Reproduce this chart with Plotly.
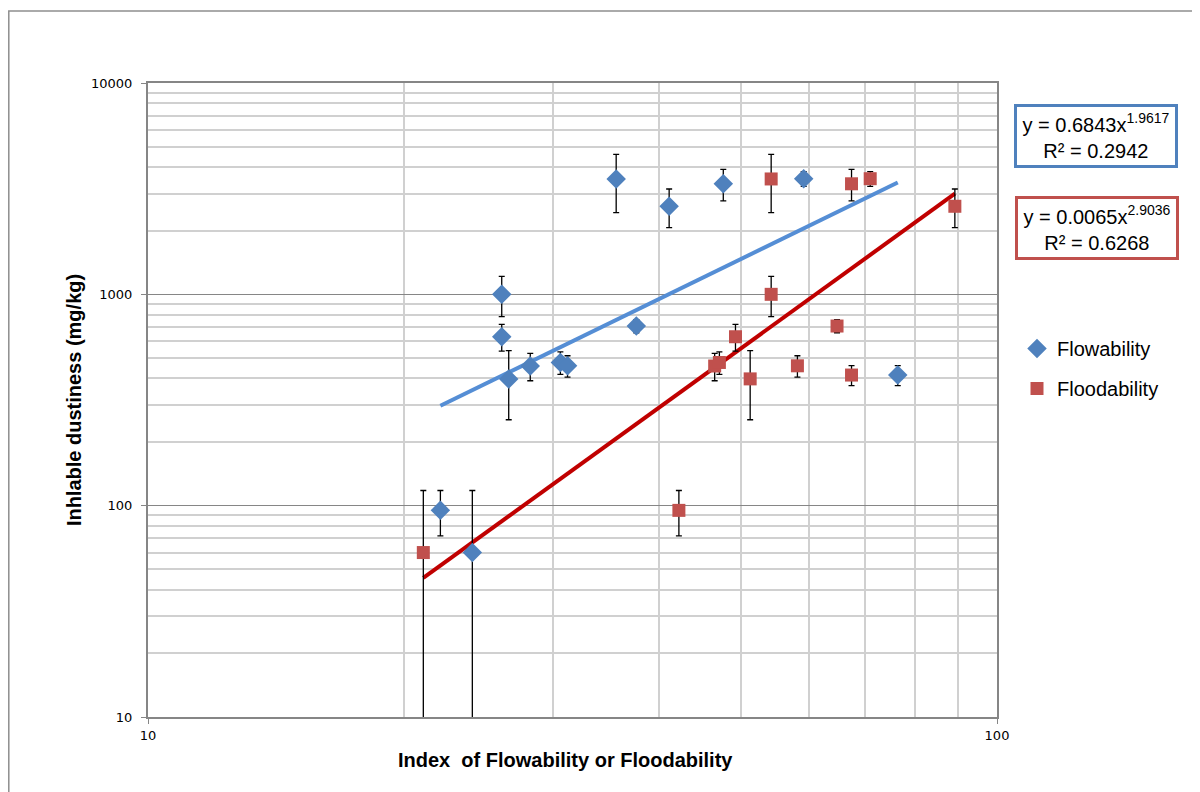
import plotly.graph_objects as go

# ---------------- data ----------------
# shared dustiness values for each powder (mg/kg) and their error (+/-)
dustiness = [3515, 2610, 3335, 3525, 1000, 630, 398, 458, 476, 459, 708, 415, 95, 60]
dust_err = [1080, 540, 565, 285, 215, 91, 143, 68, 58, 53, 50, 45, 23, 58]

flowability_idx = [35.6, 41.1, 47.6, 59.2, 26.1, 26.1, 26.6, 28.2, 30.6, 31.2, 37.6, 76.4, 22.1, 24.1]
floodability_idx = [54.2, 89.2, 67.4, 70.9, 54.2, 49.2, 51.2, 46.5, 47.1, 58.2, 64.8, 67.4, 42.2, 21.1]

# power-law trendline coefficients, as printed on the chart
flow_a, flow_b, flow_r2 = 0.6843, 1.9617, 0.2942
flood_a, flood_b, flood_r2 = 0.0065, 2.9036, 0.6268

x_tickvals = [10, 100]
x_ticktext = ["10", "100"]
y_tickvals = [10, 100, 1000, 10000]
y_ticktext = ["10", "100", "1000", "10000"]
x_minor = [20, 30, 40, 50, 60, 70, 80, 90]
y_minor = [m * d for d in (10, 100, 1000) for m in range(2, 10)]

# ---------------- styling ----------------
BLUE = "#4F81BD"
RED = "#C0504D"
BLUE_LINE = "#558ED5"
RED_LINE = "#C00000"
AXIS_GREY = "#868686"
MINOR_GREY = "#D0D0D0"

# page has an 8px body margin; work in page pixels, convert to figure pixels
OFF = 8
W, H = 1200 - OFF, 792 - OFF
PL, PR, PT, PB = 148, 997, 83, 717          # plot area in page pixels
L, T = PL - OFF, PT - OFF
R, B = W - (PR - OFF), H - (PB - OFF)
PW, PH = PR - PL, PB - PT


def px_x(p):
    return (p - PL) / PW


def px_y(p):
    return (PB - p) / PH


def trend(xs, a, b):
    lo, hi = min(xs), max(xs)
    return [lo, hi], [a * lo ** b, a * hi ** b]


fig = go.Figure()

tx, ty = trend(flowability_idx, flow_a, flow_b)
fig.add_trace(go.Scatter(x=tx, y=ty, mode="lines", showlegend=False, hoverinfo="skip",
                         line=dict(color=BLUE_LINE, width=4)))
tx, ty = trend(floodability_idx, flood_a, flood_b)
fig.add_trace(go.Scatter(x=tx, y=ty, mode="lines", showlegend=False, hoverinfo="skip",
                         line=dict(color=RED_LINE, width=4)))

err_style = dict(type="data", symmetric=True, color="black", thickness=1.3, width=3)

fig.add_trace(go.Scatter(
    x=flowability_idx, y=dustiness, mode="markers", name="Flowability",
    legendgroup="a",
    marker=dict(symbol="diamond", size=15, color=BLUE, line=dict(width=0)),
    error_y=dict(array=dust_err, **err_style),
))
fig.add_trace(go.Scatter(
    x=floodability_idx, y=dustiness, mode="markers", name="Floodability",
    legendgroup="b",
    marker=dict(symbol="square", size=13, color=RED, line=dict(width=0)),
    error_y=dict(array=dust_err, **err_style),
))

tick_font = dict(family="DejaVu Sans", size=13, color="black")
title_font = dict(family="Liberation Sans", size=20, color="black")

fig.update_xaxes(
    type="log", range=[1, 2],
    tickvals=x_tickvals, ticktext=x_ticktext, tickfont=tick_font,
    ticks="outside", ticklen=5, tickcolor=AXIS_GREY,
    showline=True, linecolor=AXIS_GREY, linewidth=2, mirror=True,
    showgrid=False, zeroline=False,
    minor=dict(tickvals=x_minor, showgrid=True, gridcolor=MINOR_GREY, gridwidth=1.5, ticks=""),
)
fig.update_yaxes(
    type="log", range=[1, 4],
    tickvals=y_tickvals, ticktext=y_ticktext, tickfont=tick_font,
    ticks="outside", ticklen=5, tickcolor=AXIS_GREY, ticklabelstandoff=6,
    showline=True, linecolor=AXIS_GREY, linewidth=2, mirror=True,
    showgrid=True, gridcolor=AXIS_GREY, gridwidth=1, zeroline=False,
    minor=dict(tickvals=y_minor, showgrid=True, gridcolor=MINOR_GREY, gridwidth=1.5, ticks=""),
    title=dict(text="<b>Inhlable dustiness (mg/kg)</b>", font=title_font, standoff=4),
)

# x-axis title (placed as annotation to match the reference's centring)
fig.add_annotation(
    xref="paper", yref="paper", x=px_x(565), y=px_y(760), xanchor="center", yanchor="middle",
    text="<b>Index  of Flowability or Floodability</b>", showarrow=False, font=title_font,
)

eq_font = dict(family="Liberation Sans", size=20, color="black")
fig.add_annotation(
    xref="paper", yref="paper", x=px_x(1095.5), y=px_y(136), xanchor="center", yanchor="middle",
    text=f"y = {flow_a:.4f}x<sup>{flow_b:.4f}</sup><br>R² = {flow_r2:.4f}",
    showarrow=False, font=eq_font, align="center",
    bordercolor=BLUE, borderwidth=3, borderpad=3, bgcolor="white", width=152, height=52,
)
fig.add_annotation(
    xref="paper", yref="paper", x=px_x(1096.5), y=px_y(228), xanchor="center", yanchor="middle",
    text=f"y = {flood_a:.4f}x<sup>{flood_b:.4f}</sup><br>R² = {flood_r2:.4f}",
    showarrow=False, font=eq_font, align="center",
    bordercolor=RED, borderwidth=3, borderpad=3, bgcolor="white", width=152, height=52,
)

# outer chart-area border
fig.add_shape(type="rect", xref="paper", yref="paper",
              x0=px_x(8.8), x1=px_x(1230), y0=px_y(830), y1=px_y(11),
              line=dict(color="#8E8E8E", width=1.5), fillcolor="rgba(0,0,0,0)", layer="below")

fig.update_layout(
    width=W, height=H,
    margin=dict(l=L, r=R, t=T, b=B, autoexpand=False),
    paper_bgcolor="white", plot_bgcolor="white",
    font=dict(family="Liberation Sans", color="black"),
    showlegend=True,
    legend=dict(
        x=px_x(1017), y=px_y(329), xanchor="left", yanchor="top",
        font=dict(family="Liberation Sans", size=20, color="black"),
        traceorder="grouped", tracegroupgap=11, bgcolor="rgba(0,0,0,0)",
        itemwidth=30,
    ),
)

fig.write_html("out.html")
